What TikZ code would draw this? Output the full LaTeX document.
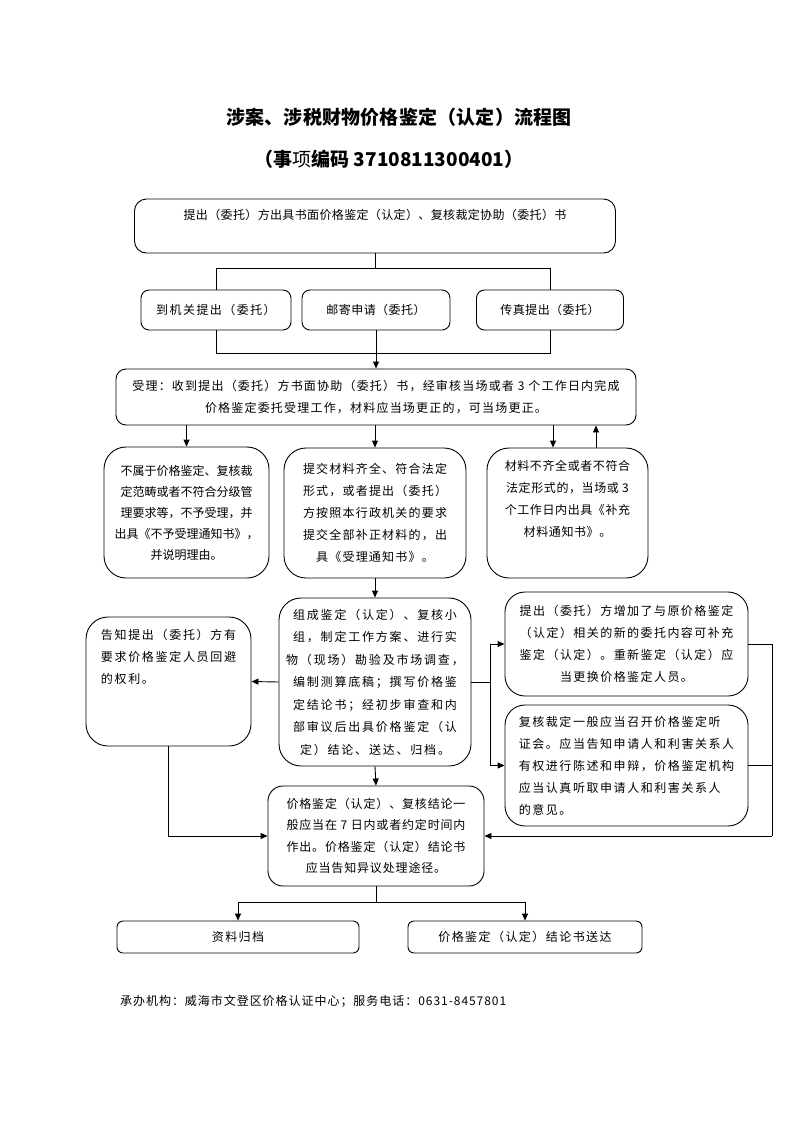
\documentclass[tikz,border=0pt]{standalone}
\usepackage{fontspec}
\setmainfont{Noto Sans CJK SC}
\usetikzlibrary{arrows.meta}
\newcommand{\ft}[3]{\fontsize{#1}{#2}\selectfont\addfontfeature{LetterSpace=#3}}
\begin{document}
\begin{tikzpicture}[x=1pt,y=-1pt,
  box/.style={draw,line width=0.9pt,inner sep=0pt,align=center},
  conn/.style={line width=0.9pt},
  arr/.style={line width=0.9pt,-{Triangle[length=7pt,width=6pt]}}]
\useasboundingbox (0,0) rectangle (793,1122);
\fill[white] (0,0) rectangle (793,1122);
% titles
\node (t1) at (399,117) {\fontsize{19}{22}\selectfont\addfontfeature{LetterSpace=1}\bfseries 涉案、涉税财物价格鉴定（认定）流程图};
\node (t2) at (389,159) {\fontsize{19}{22}\selectfont{\bfseries （事}项{\bfseries 编码 3710811300401）}};
% boxes
\node[box,rounded corners=12pt,minimum width=481pt,minimum height=54pt,font=\ft{12}{18}{3}] (top) at (375,226) {提出（委托）方出具书面价格鉴定（认定）、复核裁定协助（委托）书\\\strut};
\node[box,rounded corners=8pt,minimum width=150pt,minimum height=40pt,font=\ft{12}{20}{12}] (b1) at (216,310) {到机关提出（委托）};
\node[box,rounded corners=8pt,minimum width=148pt,minimum height=40pt,font=\ft{12}{20}{4}] (b2) at (376,310) {邮寄申请（委托）};
\node[box,rounded corners=8pt,minimum width=147pt,minimum height=40pt,font=\ft{12}{20}{4}] (b3) at (550,310) {传真提出（委托）};
\node[box,rounded corners=10pt,minimum width=520pt,minimum height=56pt,font=\ft{12}{22}{10}] (acc) at (376,397) {受理：收到提出（委托）方书面协助（委托）书，经审核当场或者 3 个工作日内完成\\价格鉴定委托受理工作，材料应当场更正的，可当场更正。};
\node[box,rounded corners=22pt,minimum width=165pt,minimum height=131pt,font=\ft{12}{21}{0}] (left1) at (186.5,512.5) {不属于价格鉴定、复核裁\\定范畴或者不符合分级管\\理要求等，不予受理，并\\出具《不予受理通知书》，\\并说明理由。};
\node[box,rounded corners=22pt,minimum width=182pt,minimum height=130pt,font=\ft{12}{22}{10}] (mid1) at (375,513) {提交材料齐全、符合法定\\形式，或者提出（委托）\\方按照本行政机关的要求\\提交全部补正材料的，出\\具《受理通知书》。};
\node[box,rounded corners=22pt,minimum width=161pt,minimum height=130pt,font=\ft{12}{22}{5}] (right1) at (567.5,513) {材料不齐全或者不符合\\法定形式的，当场或 3\\个工作日内出具《补充\\材料通知书》。\\\strut};
\node[box,rounded corners=22pt,minimum width=192pt,minimum height=168pt,font=\ft{12}{22.5}{15}] (group) at (375,682) {组成鉴定（认定）、复核小\\组，制定工作方案、进行实\\物（现场）勘验及市场调查，\\编制测算底稿；撰写价格鉴\\定结论书；经初步审查和内\\部审议后出具价格鉴定（认\\定）结论、送达、归档。};
\node[box,align=left,rounded corners=22pt,minimum width=165pt,minimum height=129pt,font=\ft{12}{22}{14}] (tell) at (168.5,681.5) {告知提出（委托）方有\\要求价格鉴定人员回避\\的权利。\\\strut\\\strut};
\node[box,rounded corners=20pt,minimum width=243pt,minimum height=104pt,font=\ft{12}{22}{12}] (rtop) at (626.5,644) {提出（委托）方增加了与原价格鉴定\\（认定）相关的新的委托内容可补充\\鉴定（认定）。重新鉴定（认定）应\\当更换价格鉴定人员。};
\node[box,align=left,rounded corners=20pt,minimum width=243pt,minimum height=121pt,font=\ft{12}{22}{13}] (rbot) at (626.5,765.5) {复核裁定一般应当召开价格鉴定听\\证会。应当告知申请人和利害关系人\\有权进行陈述和申辩，价格鉴定机构\\应当认真听取申请人和利害关系人\\的意见。};
\node[box,rounded corners=15pt,minimum width=216pt,minimum height=100pt,font=\ft{12}{21.5}{7}] (result) at (376,836) {价格鉴定（认定）、复核结论一\\般应当在 7 日内或者约定时间内\\作出。价格鉴定（认定）结论书\\应当告知异议处理途径。};
\node[box,rounded corners=6pt,minimum width=242pt,minimum height=32pt,font=\ft{12}{20}{12}] (f1) at (238,937) {资料归档};
\node[box,rounded corners=6pt,minimum width=234pt,minimum height=32pt,font=\ft{12}{20}{12}] (f2) at (525,937) {价格鉴定（认定）结论书送达};
\node[anchor=west,inner sep=0pt,font=\ft{12}{20}{8}] (foot) at (120,1001) {承办机构：威海市文登区价格认证中心；服务电话：0631-8457801};
% connectors
\coordinate (j1) at (375,268);
\coordinate (j2) at (375,353);
\draw[conn] (top.south) -- (top.south |- j1);
\draw[conn] (b1.north) -- (b1.north |- j1) -- (b3.north |- j1) -- (b3.north);
\draw[conn] (b1.south) -- (b1.south |- j2) -- (b3.south |- j2) -- (b3.south);
\draw[arr] (b2.south) -- (acc.north);
\draw[arr] (left1.north |- acc.south) -- (left1.north);
\draw[arr] (mid1.north |- acc.south) -- (mid1.north);
\draw[arr] ([xshift=-14.5pt]right1.north |- acc.south) -- ([xshift=-14.5pt]right1.north);
\draw[arr] ([xshift=28.5pt]right1.north) -- ([xshift=28.5pt]right1.north |- acc.south);
\draw[arr] (mid1.south) -- (group.north);
\draw[arr] (group.west) -- (tell.east);
\coordinate (jr) at (490,682);
\draw[conn] (group.east) -- (jr);
\draw[arr] (jr) |- (rtop.west);
\draw[arr] (jr) |- (rbot.west);
\coordinate (jrr) at (772,836);
\draw[conn] (rtop.east) -| (jrr);
\draw[conn] (rbot.east) -- (rbot.east -| jrr);
\draw[arr] (jrr) -- (result.east);
\draw[arr] (tell.south) |- (result.west);
\draw[arr] (group.south) -- (result.north);
\coordinate (jb) at (376,902);
\draw[conn] (result.south) -- (jb);
\draw[arr] (jb) -| (f1.north);
\draw[arr] (jb) -| (f2.north);
\end{tikzpicture}
\end{document}
